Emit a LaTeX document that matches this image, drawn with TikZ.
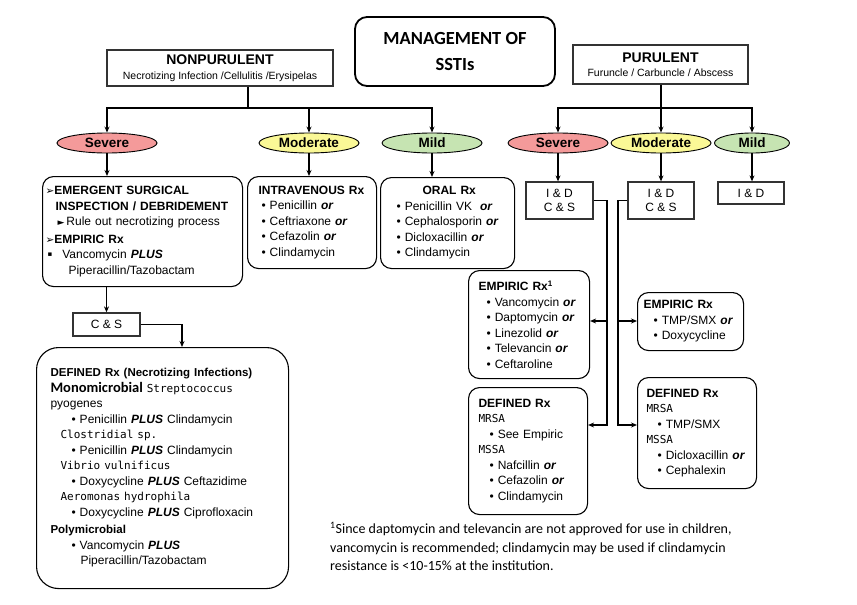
\documentclass[tikz,border=0pt]{standalone}
\usepackage{fontspec}
\setmainfont{Liberation Sans}
\newfontfamily\calfont{Carlito}
\newfontfamily\mfont{DejaVu Sans Mono}
\newfontfamily\djv{DejaVu Sans}
\usetikzlibrary{shapes.geometric,arrows.meta,calc}
\definecolor{sevc}{RGB}{244,154,154}
\definecolor{modc}{RGB}{250,248,150}
\definecolor{milc}{RGB}{198,228,178}
\newcommand\bi[1]{\textbf{\textit{#1}}}
\newcommand\bxf{\fontsize{12}{15.5}\selectfont}
\newcommand\mono[1]{{\mfont\fontsize{11}{15.5}\selectfont #1}}
\newcommand\arrb{{\djv\fontsize{10.5}{10}\selectfont ➢}}
\tikzset{
  rbox/.style={draw, line width=1.1pt, rounded corners=11pt, align=left, font=\bxf, inner ysep=0pt},
  sbox/.style={draw=black!80, line width=1.3pt, align=center, font=\bxf, inner sep=0pt},
  sev/.style={ellipse, draw, line width=0.9pt, fill=#1, minimum height=20pt, inner sep=0pt, font=\fontsize{13.5}{14}\selectfont\bfseries},
  arr/.style={line width=1.3pt, -{Stealth[length=6pt,width=5pt]}},
  ln/.style={line width=1.3pt},
}
\begin{document}
\begin{tikzpicture}[x=1pt,y=-1pt]
\useasboundingbox (0,0) rectangle (857,605);
% title
\node[draw, line width=1.8pt, rounded corners=12pt, minimum width=200, minimum height=69, inner sep=0pt, align=center,
  font=\calfont\bfseries\fontsize{18.5}{26}\selectfont] (title) at (455,51.5) {MANAGEMENT OF\\SSTIs};
% headers
\node[sbox, minimum width=226, minimum height=36] (nonpur) at (220,68)
  {{\bfseries\fontsize{14}{16}\selectfont NONPURULENT}\\[-1pt]{\fontsize{10.5}{12}\selectfont Necrotizing Infection /Cellulitis /Erysipelas}};
\node[sbox, minimum width=175, minimum height=39] (pur) at (660.5,64.5)
  {{\bfseries\fontsize{14}{16}\selectfont PURULENT}\\[-1pt]{\fontsize{10.5}{12}\selectfont Furuncle / Carbuncle / Abscess}};
% severity ellipses
\node[sev=sevc, minimum width=100] (sev1) at (107,143) {Severe};
\node[sev=modc, minimum width=100] (mod1) at (309,143) {Moderate};
\node[sev=milc, minimum width=100] (mild1) at (432,143) {Mild};
\node[sev=sevc, minimum width=100] (sev2) at (558,143) {Severe};
\node[sev=modc, minimum width=100] (mod2) at (661,143) {Moderate};
\node[sev=milc, minimum width=75] (mild2) at (752,143) {Mild};
% branch connectors
\coordinate (nj) at (248,108);
\coordinate (pj) at (661,108);
\draw[ln] (nonpur.south -| nj) -- (nj);
\draw[arr] (nj) -| (sev1.north);
\draw[arr] (nj) -| (mod1.north);
\draw[arr] (nj) -| (mild1.north);
\draw[ln] (pur.south -| pj) -- (pj);
\draw[arr] (pj) -| (sev2.north);
\draw[arr] (pj) -- (mod2.north);
\draw[arr] (pj) -| (mild2.north);
% treatment boxes row
\node[rbox, anchor=north west, text width=194, inner xsep=3pt, minimum height=110] (sevbox) at (42,176) {%
\arrb\textbf{EMERGENT SURGICAL}\\
\hspace*{10pt}\textbf{INSPECTION / DEBRIDEMENT}\\
\hspace*{12pt}{\djv\fontsize{9}{10}\selectfont ►}\,Rule out necrotizing process\\[2pt]
\arrb\textbf{EMPIRIC Rx}\\
\hspace*{2pt}\raisebox{2.5pt}{\djv\fontsize{7}{10}\selectfont ▪}\hspace*{10pt}Vancomycin \bi{PLUS}\\
\hspace*{23pt}Piperacillin/Tazobactam};
\node[rbox, anchor=north west, text width=113, inner xsep=8pt, minimum height=92] (ivbox) at (247,176) {%
\hspace*{3pt}\textbf{INTRAVENOUS Rx}\\
\hspace*{6pt}• Penicillin \bi{or}\\
\hspace*{6pt}• Ceftriaxone \bi{or}\\
\hspace*{6pt}• Cefazolin \bi{or}\\
\hspace*{6pt}• Clindamycin};
\node[rbox, anchor=north west, text width=122, inner xsep=6pt, minimum height=91] (oralbox) at (380,177) {%
\hspace*{36pt}\textbf{ORAL Rx}\\
\hspace*{10pt}• Penicillin VK\ \ \bi{or}\\
\hspace*{10pt}• Cephalosporin \bi{or}\\
\hspace*{10pt}• Dicloxacillin \bi{or}\\
\hspace*{10pt}• Clindamycin};
\node[sbox, minimum width=67, minimum height=37] (id1) at (559.5,200.5) {I \& D\\[-1pt]C \& S};
\node[sbox, minimum width=66, minimum height=37] (id2) at (661,200.5) {I \& D\\[-1pt]C \& S};
\node[sbox, minimum width=66, minimum height=22] (id3) at (751,193) {I \& D};
\draw[arr] (sev1.south) -- (sevbox.north -| sev1.south);
\draw[arr] (mod1.south) -- (ivbox.north -| mod1.south);
\draw[arr] (mild1.south) -- (oralbox.north -| mild1.south);
\draw[arr] (sev2.south) -- (id1.north -| sev2.south);
\draw[arr] (mod2.south) -- (id2.north);
\draw[arr] (mild2.south) -- (id3.north -| mild2.south);
% left column
\node[sbox, minimum width=67, minimum height=23] (cs1) at (106.5,324.5) {C \& S};
\draw[arr] (sevbox.south -| cs1.north) -- (cs1.north);
\node[rbox, rounded corners=22pt, anchor=north west, text width=228, inner xsep=12pt, minimum height=241] (defnec) at (36,347) {%
\hspace*{2pt}{\bfseries\fontsize{11.5}{15.5}\selectfont DEFINED Rx (Necrotizing Infections)}\\
\hspace*{2pt}{\calfont\bfseries\fontsize{14.5}{15.5}\selectfont Monomicrobial} \mono{Streptococcus}\\
\hspace*{2pt}pyogenes\\
\hspace*{23pt}• Penicillin \bi{PLUS} Clindamycin\\
\hspace*{12pt}\mono{Clostridial sp.}\\
\hspace*{23pt}• Penicillin \bi{PLUS} Clindamycin\\
\hspace*{12pt}\mono{Vibrio vulnificus}\\
\hspace*{23pt}• Doxycycline \bi{PLUS} Ceftazidime\\
\hspace*{12pt}\mono{Aeromonas hydrophila}\\
\hspace*{23pt}• Doxycycline \bi{PLUS} Ciprofloxacin\\[2pt]
\hspace*{2pt}{\bfseries\fontsize{11.5}{15.5}\selectfont Polymicrobial}\\
\hspace*{23pt}• Vancomycin \bi{PLUS}\\
\hspace*{32pt}Piperacillin/Tazobactam};
\coordinate (cj) at (182,324.5);
\draw[arr] (cs1.east) -| (defnec.north -| cj);
% right column
\node[rbox, anchor=north west, text width=111, inner xsep=5pt, minimum height=108] (emp1) at (468,270) {%
\hspace*{5pt}\textbf{EMPIRIC Rx\textsuperscript{1}}\\
\hspace*{13pt}• Vancomycin \bi{or}\\
\hspace*{13pt}• Daptomycin \bi{or}\\
\hspace*{13pt}• Linezolid \bi{or}\\
\hspace*{13pt}• Televancin \bi{or}\\
\hspace*{13pt}• Ceftaroline};
\node[rbox, anchor=north west, text width=109, inner xsep=5pt, minimum height=127] (def1) at (468,387) {%
\hspace*{5pt}\textbf{DEFINED Rx}\\
\hspace*{5pt}\mono{MRSA}\\
\hspace*{16pt}• See Empiric\\
\hspace*{5pt}\mono{MSSA}\\
\hspace*{16pt}• Nafcillin \bi{or}\\
\hspace*{16pt}• Cefazolin \bi{or}\\
\hspace*{16pt}• Clindamycin};
\node[rbox, anchor=north west, text width=96, inner xsep=5pt, minimum height=58] (emp2) at (637,292) {%
\hspace*{1pt}\textbf{EMPIRIC Rx}\\
\hspace*{11pt}• TMP/SMX \bi{or}\\
\hspace*{11pt}• Doxycycline};
\node[rbox, anchor=north west, text width=109, inner xsep=5pt, minimum height=111] (def2) at (637,377) {%
\hspace*{4pt}\textbf{DEFINED Rx}\\
\hspace*{4pt}\mono{MRSA}\\
\hspace*{15pt}• TMP/SMX\\
\hspace*{4pt}\mono{MSSA}\\
\hspace*{15pt}• Dicloxacillin \bi{or}\\
\hspace*{15pt}• Cephalexin};
\coordinate (v1) at (607,425);
\coordinate (v1m) at (607,321);
\coordinate (v2) at (618,425);
\coordinate (v2m) at (618,321);
\draw[arr] (id1.east) -| (v1) -- (v1 -| def1.east);
\draw[arr] (v1m) -- (v1m -| emp1.east);
\draw[arr] (id2.west) -| (v2) -- (v2 -| def2.west);
\draw[arr] (v2m) -- (v2m -| emp2.west);
% footnote
\node[anchor=north west, align=left, inner sep=0pt, font=\calfont\fontsize{14}{18.5}\selectfont] (fn) at (330,522) {%
\textsuperscript{1}Since daptomycin and televancin are not approved for use in children,\\
vancomycin is recommended; clindamycin may be used if clindamycin\\
resistance is <10-15\% at the institution.};
\end{tikzpicture}
\end{document}
